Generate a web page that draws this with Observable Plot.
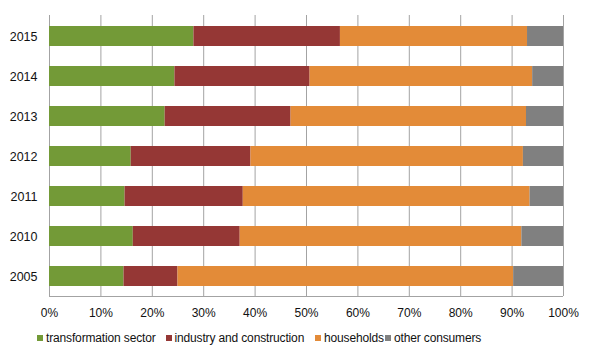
<!DOCTYPE html>
<html>
<head>
<meta charset="utf-8">
<script src="https://cdn.jsdelivr.net/npm/d3@7"></script>
<script src="https://cdn.jsdelivr.net/npm/@observablehq/plot@0.6"></script>
<style>
  html, body { margin: 0; padding: 0; background: #fff; }
  body { width: 595px; height: 358px; overflow: hidden; font-family: "Liberation Sans", Arial, sans-serif; }
  #legend { position: relative; height: 36px; font-size: 12px; color: #111; letter-spacing: -0.15px; }
  .item { position: absolute; top: 9px; display: flex; align-items: center; white-space: nowrap; }
  .sw { width: 6px; height: 6px; margin-right: 3px; }
</style>
</head>
<body>
<div id="chart"></div>
<div id="legend"></div>
<script>
const years = ["2015", "2014", "2013", "2012", "2011", "2010", "2005"];
const seriesNames = ["transformation sector", "industry and construction", "households", "other consumers"];
const transformation = [28.1, 24.4, 22.5, 15.9, 14.7, 16.3, 14.5];
const industry =       [28.5, 26.3, 24.5, 23.3, 23.0, 20.8, 10.5];
const households =     [36.4, 43.3, 45.8, 53.0, 55.8, 54.8, 65.3];
const other =          [7.0, 6.0, 7.2, 7.8, 6.5, 8.1, 9.7];
const colors = ["#739a37", "#953735", "#e38b38", "#808080"];
const xTicks = [0, 10, 20, 30, 40, 50, 60, 70, 80, 90, 100];

const seriesValues = [transformation, industry, households, other];
const data = [];
seriesNames.forEach((s, si) => {
  years.forEach((y, yi) => data.push({year: y, series: s, order: si, value: seriesValues[si][yi]}));
});

const plot = Plot.plot({
  width: 595,
  height: 322,
  marginLeft: 49,
  marginRight: 32,
  marginTop: 15,
  marginBottom: 26,
  style: {fontFamily: "'Liberation Sans', Arial, sans-serif", fontSize: "12px", color: "#111", background: "#fff"},
  x: {domain: [0, 100], ticks: xTicks, tickFormat: d => d + "%", label: null},
  y: {domain: years, paddingInner: 0.5, paddingOuter: 0.25, label: null},
  color: {domain: seriesNames, range: colors},
  marks: [
    Plot.ruleX(xTicks, {stroke: "#a3a3a3", strokeWidth: 1}),
    Plot.barX(data, Plot.stackX({x: "value", y: "year", fill: "series", order: "order", z: "series"})),
    Plot.axisX({ticks: xTicks, tickFormat: d => d + "%", tickSize: 0, tickPadding: 12, fontSize: 12}),
    Plot.axisY({tickSize: 0, tickPadding: 12, fontSize: 12.5})
  ]
});
document.getElementById("chart").appendChild(plot);

// bottom axis line using the plot's x scale
const sx = plot.scale("x");
d3.select(plot).append("line")
  .attr("x1", sx.apply(0)).attr("x2", sx.apply(100))
  .attr("y1", 296.5).attr("y2", 296.5)
  .attr("stroke", "#a3a3a3");

const legendX = [37, 165.5, 315, 385];
const legend = document.getElementById("legend");
seriesNames.forEach((s, i) => {
  const it = document.createElement("div");
  it.className = "item";
  it.style.left = legendX[i] + "px";
  it.innerHTML = `<span class="sw" style="background:${colors[i]}"></span><span>${s}</span>`;
  legend.appendChild(it);
});
</script>
</body>
</html>
